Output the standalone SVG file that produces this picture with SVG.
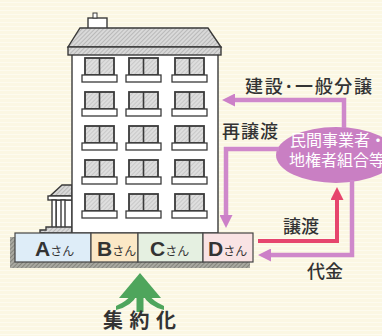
<svg xmlns="http://www.w3.org/2000/svg" width="382" height="336" viewBox="0 0 382 336">
  <defs>
    <pattern id="paper" width="8" height="4" patternUnits="userSpaceOnUse">
      <rect width="8" height="4" fill="#fbf7e3"/>
      <rect y="2" width="8" height="1" fill="#fdfbef"/>
    </pattern>
    <pattern id="hatch" width="3" height="3" patternUnits="userSpaceOnUse" patternTransform="rotate(45)">
      <rect width="3" height="3" fill="#d9d9d9"/>
      <rect width="1" height="3" fill="#b9b9b9"/>
    </pattern>
    <pattern id="pane" width="3" height="3" patternUnits="userSpaceOnUse" patternTransform="rotate(45)">
      <rect width="3" height="3" fill="#dedede"/>
      <rect width="1" height="3" fill="#c8c8c8"/>
    </pattern>
    <pattern id="ground" width="3" height="3" patternUnits="userSpaceOnUse" patternTransform="rotate(45)">
      <rect width="3" height="3" fill="#a9a9a1"/>
      <rect width="1" height="3" fill="#85857d"/>
    </pattern>
    <marker id="headPurple" viewBox="0 0 13 13" markerWidth="13" markerHeight="13" refX="4" refY="6.5" orient="auto" markerUnits="userSpaceOnUse">
      <path d="M0,0 L13,6.5 L0,13 z" fill="#cc80c8"/>
    </marker>
    <marker id="headRed" viewBox="0 0 13 13" markerWidth="13" markerHeight="13" refX="4" refY="6.5" orient="auto" markerUnits="userSpaceOnUse">
      <path d="M0,0 L13,6.5 L0,13 z" fill="#e6456d"/>
    </marker>
    <g id="win">
      <rect x="0" y="0" width="29" height="17" fill="url(#pane)" stroke="#3a3a3a" stroke-width="1.8"/>
      <line x1="14.5" y1="0" x2="14.5" y2="17" stroke="#3a3a3a" stroke-width="1.6"/>
      <rect x="-3" y="17" width="35" height="7" fill="#fff" stroke="#3a3a3a" stroke-width="1.3"/>
    </g>
  </defs>
  <style>
    .lbl { font-family: "Noto Sans CJK JP", "Noto Sans", sans-serif; fill: #333; font-size: 18px; font-weight: 500; }
    .name { font-family: "Noto Sans CJK JP", sans-serif; fill: #333; font-size: 12px; }
    .ltr { font-family: "Liberation Sans", Arial, sans-serif; font-weight: bold; font-size: 21px; }
    .org { font-family: "Noto Sans CJK JP", sans-serif; font-size: 16px; fill: #fff; }
    .cell { stroke: #444; stroke-width: 1.2; }
    .pline { fill: none; stroke: #cf88cb; stroke-width: 4.5; }
    .rline { fill: none; stroke: #e6456d; stroke-width: 4; }
    .ink { stroke: #3a3a3a; stroke-width: 1.4; }
  </style>

  <rect width="382" height="336" fill="url(#paper)"/>

  <!-- apartment building -->
  <g id="building">
    <!-- porch -->
    <rect x="56" y="200" width="16" height="28" fill="#fff" class="ink"/>
    <polygon points="50,196 62,185 72,185 72,196" fill="url(#hatch)" class="ink"/>
    <rect x="48" y="196" width="24" height="4" fill="#fff" class="ink"/>
    <rect x="52" y="200" width="4" height="28" fill="#fff" class="ink"/>
    <rect x="61" y="200" width="4" height="28" fill="#fff" class="ink"/>
    <polygon points="40,233 40,230 46,230 46,227 72,227 72,233" fill="url(#hatch)" class="ink"/>

    <!-- main block -->
    <rect x="72" y="54" width="146" height="179" fill="#fff" class="ink"/>
    <rect x="88" y="18" width="19" height="11" fill="#fff" class="ink"/>
    <rect x="93" y="13" width="4" height="5" fill="#fff" stroke="#3a3a3a" stroke-width="1"/>
    <polygon points="80,28 208,28 221,47 68,47" fill="url(#hatch)" class="ink"/>
    <rect x="68" y="47" width="153" height="8" fill="url(#hatch)" class="ink"/>

    <!-- windows -->
    <use href="#win" x="85" y="58"/><use href="#win" x="129" y="58"/><use href="#win" x="175" y="58"/>
    <use href="#win" x="85" y="92"/><use href="#win" x="129" y="92"/><use href="#win" x="175" y="92"/>
    <use href="#win" x="85" y="126"/><use href="#win" x="129" y="126"/><use href="#win" x="175" y="126"/>
    <use href="#win" x="85" y="160"/><use href="#win" x="129" y="160"/><use href="#win" x="175" y="160"/>
    <use href="#win" x="85" y="194"/><use href="#win" x="129" y="194"/><use href="#win" x="175" y="194"/>
  </g>

  <!-- land plots -->
  <rect x="10" y="237" width="240" height="31" fill="url(#ground)"/>
  <g id="plotA">
    <rect x="15" y="233" width="76" height="29" fill="#deedf8" class="cell"/>
    <text x="35" y="256" class="name"><tspan class="ltr">A</tspan>さん</text>
  </g>
  <g id="plotB">
    <rect x="91" y="233" width="47" height="29" fill="#fbe8c6" class="cell"/>
    <text x="97" y="256" class="name"><tspan class="ltr">B</tspan>さん</text>
  </g>
  <g id="plotC">
    <rect x="138" y="233" width="65" height="29" fill="#e5f0e1" class="cell"/>
    <text x="150" y="256" class="name"><tspan class="ltr">C</tspan>さん</text>
  </g>
  <g id="plotD">
    <rect x="203" y="233" width="50" height="29" fill="#f9e3e4" class="cell"/>
    <text x="208" y="256" class="name"><tspan class="ltr">D</tspan>さん</text>
  </g>

  <!-- consolidation mark -->
  <g id="consolidation">
    <polygon points="140,273 119,298 161,298" fill="#4ea55c"/>
    <rect x="136.5" y="294" width="7" height="18" fill="#4ea55c"/>
    <path d="M137,295 Q132,306 116,310 L116,306 Q127,301 131,295 z" fill="#4ea55c"/>
    <path d="M143,295 Q148,306 164,310 L164,306 Q153,301 149,295 z" fill="#4ea55c"/>
    <text x="103" y="328" class="lbl" style="font-size:20px;letter-spacing:6.5px;font-weight:600">集約化</text>
  </g>

  <!-- developer -->
  <g id="developer">
    <ellipse cx="336" cy="155" rx="60" ry="28" fill="#c97fc3"/>
    <text x="290" y="146" class="org">民間事業者・</text>
    <text x="289" y="166" class="org">地権者組合等</text>
  </g>

  <!-- flows -->
  <g id="connectors">
    <path d="M344,128 V100 H231" class="pline" marker-end="url(#headPurple)"/>
    <path d="M279,149 H226 V219" class="pline" marker-end="url(#headPurple)"/>
    <path d="M352,180 V255 H267" class="pline" marker-end="url(#headPurple)"/>
    <path d="M258,241 H337 V196" class="rline" marker-end="url(#headRed)"/>
  </g>

  <g id="labels">
    <text x="245" y="93" class="lbl" textLength="127" lengthAdjust="spacing">建設･一般分譲</text>
    <text x="222" y="138" class="lbl" textLength="56" lengthAdjust="spacing">再譲渡</text>
    <text x="283" y="233" class="lbl">譲渡</text>
    <text x="307" y="278" class="lbl">代金</text>
  </g>
</svg>
